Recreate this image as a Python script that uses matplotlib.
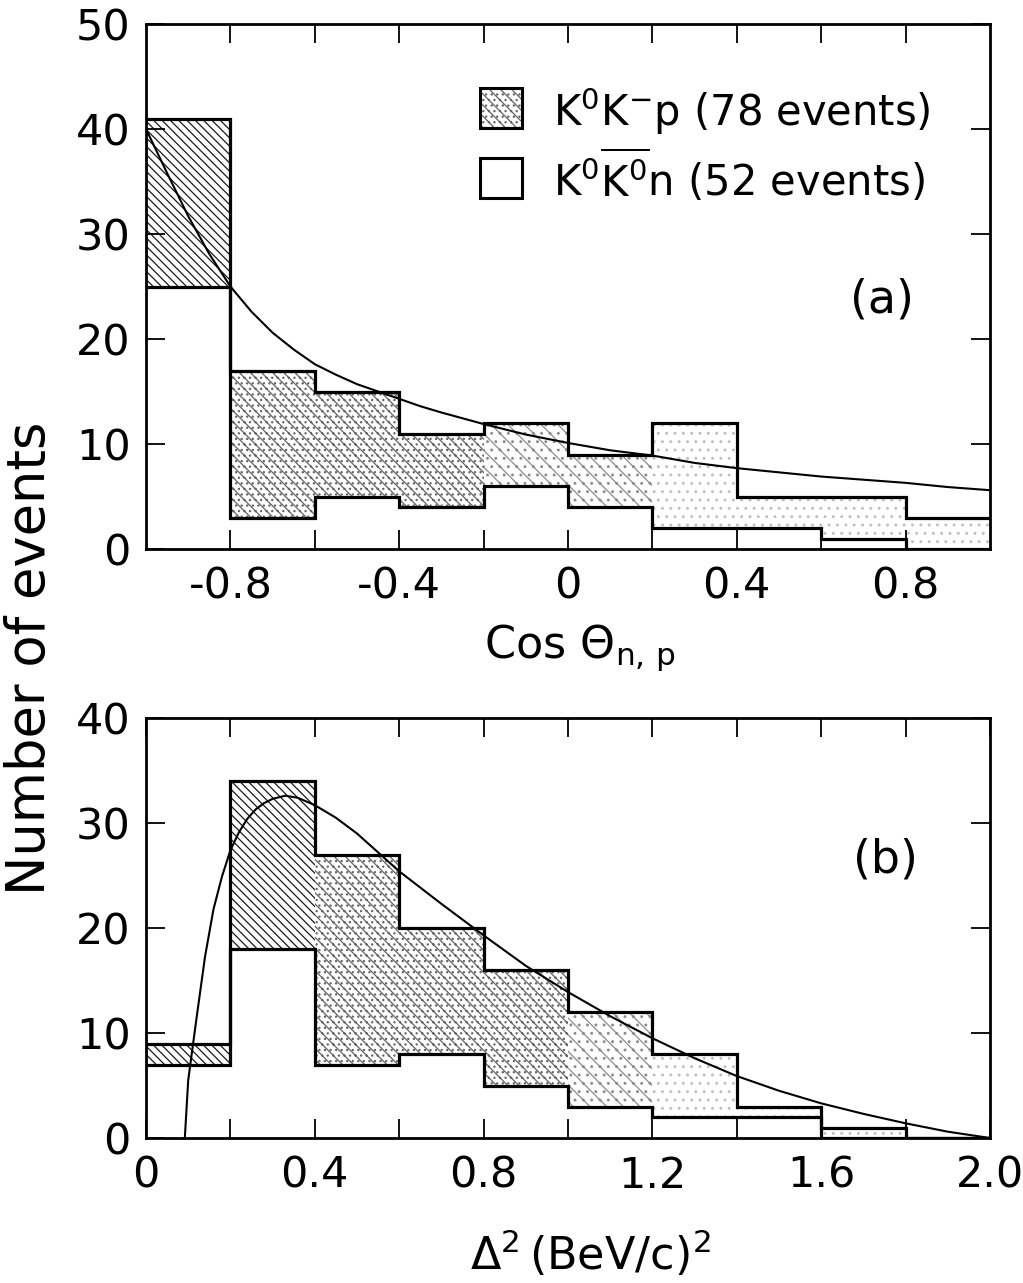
import numpy as np
import matplotlib
matplotlib.use('Agg')
import matplotlib.pyplot as plt
from matplotlib.patches import Rectangle

# ---- data ----
# (a) cos theta_n,p, bins of 0.2
cos_edges = [-1.0, -0.8, -0.6, -0.4, -0.2, 0.0, 0.2, 0.4, 0.6, 0.8, 1.0]
cos_k0k0n = [25, 3, 5, 4, 6, 4, 2, 2, 1, 0]        # K0 K0bar n, 52 events
cos_total = [41, 17, 15, 11, 12, 9, 12, 5, 5, 3]    # + K0 K- p, 78 events
cos_fit_x = [-1.0, -0.95, -0.9, -0.85, -0.8, -0.75, -0.7, -0.65, -0.6, -0.55,
             -0.5, -0.45, -0.4, -0.35, -0.3, -0.2, -0.1, 0.0, 0.1, 0.2, 0.3,
             0.4, 0.5, 0.6, 0.7, 0.8, 0.9, 1.0]
cos_fit_y = [40.0, 35.8, 31.7, 28.1, 25.0, 22.6, 20.6, 19.0, 17.6, 16.6,
             15.7, 15.0, 14.3, 13.6, 13.0, 11.9, 10.9, 10.1, 9.4, 8.9, 8.2,
             7.7, 7.3, 6.9, 6.6, 6.3, 5.9, 5.6]
cos_ticks = [-0.8, -0.4, 0.0, 0.4, 0.8]
cos_ticklabels = ['-0.8', '-0.4', '0', '0.4', '0.8']
cos_minor = [-0.6, -0.2, 0.2, 0.6]
cos_yticks = [0, 10, 20, 30, 40, 50]

# (b) delta^2 (BeV/c)^2, bins of 0.2
d2_edges = [0.0, 0.2, 0.4, 0.6, 0.8, 1.0, 1.2, 1.4, 1.6, 1.8, 2.0]
d2_k0k0n = [7, 18, 7, 8, 5, 3, 2, 2, 0, 0]
d2_total = [9, 34, 27, 20, 16, 12, 8, 3, 1, 0]
d2_fit_x = [0.092, 0.10, 0.11, 0.12, 0.14, 0.16, 0.18, 0.20, 0.22, 0.24, 0.26,
            0.28, 0.30, 0.33, 0.36, 0.40, 0.45, 0.50, 0.60, 0.70, 0.80, 0.90,
            1.00, 1.10, 1.20, 1.30, 1.40, 1.50, 1.60, 1.70, 1.80, 1.90, 2.00]
d2_fit_y = [0.0, 5.5, 8.5, 11.5, 17.3, 21.8, 24.9, 27.4, 29.1, 30.4, 31.3,
            31.9, 32.3, 32.6, 32.4, 31.7, 30.5, 29.0, 25.4, 22.3, 19.3, 16.4,
            13.9, 11.6, 9.5, 7.6, 5.9, 4.5, 3.3, 2.3, 1.4, 0.6, 0.0]
d2_ticks = [0.0, 0.4, 0.8, 1.2, 1.6, 2.0]
d2_ticklabels = ['0', '0.4', '0.8', '1.2', '1.6', '2.0']
d2_minor = [0.2, 0.6, 1.0, 1.4, 1.8]
d2_yticks = [0, 10, 20, 30, 40]

# stipple look of the shaded part, one per bin
cos_shade = ['dense', 'medium', 'medium', 'medium', 'light', 'light',
             'faint', 'faint', 'faint', 'faint']
d2_shade = ['dense', 'dense', 'medium', 'medium', 'medium', 'light',
            'faint', 'faint', 'faint', 'faint']
SHADES = {'dense': ('\\\\\\\\', '0.1'),
          'medium': ('\\\\\\...', '0.4'),
          'light': ('\\\\..', '0.55'),
          'faint': ('..', '0.75')}

plt.rcParams['font.family'] = ['DejaVu Sans']
plt.rcParams['mathtext.fontset'] = 'dejavusans'
plt.rcParams['axes.unicode_minus'] = False
plt.rcParams['hatch.linewidth'] = 0.9

W, H = 1023, 1283
fig = plt.figure(figsize=(W / 100, H / 100), dpi=100)


def fx(x):
    return x / W


def fy(y):
    return 1 - y / H


def draw_panel(ax, edges, white, total, shade, fit_x, fit_y):
    edges = np.array(edges)
    white = np.array(white)
    total = np.array(total)
    for l, w, lo, hi, s in zip(edges[:-1], np.diff(edges), white, total, shade):
        if hi > lo:
            hatch, col = SHADES[s]
            ax.bar(l, hi - lo, width=w, bottom=lo, align='edge', color='white',
                   edgecolor=col, hatch=hatch, linewidth=0, zorder=1)
    ax.stairs(total, edges, baseline=None, color='black', lw=2.3, zorder=3)
    ax.stairs(white, edges, baseline=None, color='black', lw=2.3, zorder=3)
    ax.plot(fit_x, fit_y, color='black', lw=1.5, zorder=4)


def style_axes(ax, xlim, ylim, ticks, labels, minor, yticks):
    ax.set_xlim(*xlim)
    ax.set_ylim(*ylim)
    ax.set_xticks(ticks)
    ax.set_xticklabels(labels)
    ax.set_xticks(minor, minor=True)
    ax.set_yticks(yticks)
    ax.set_yticklabels([str(v) for v in yticks])
    ax.tick_params(which='both', direction='in', length=14, width=1.3,
                   top=True, right=True, labelsize=31)
    ax.tick_params(axis='x', pad=12)
    ax.tick_params(axis='y', pad=11)
    for sp in ax.spines.values():
        sp.set_linewidth(2)


ax_a = fig.add_axes([fx(146), fy(549), fx(990) - fx(146), fy(24) - fy(549)])
draw_panel(ax_a, cos_edges, cos_k0k0n, cos_total, cos_shade, cos_fit_x, cos_fit_y)
style_axes(ax_a, (-1, 1), (0, 50), cos_ticks, cos_ticklabels, cos_minor, cos_yticks)

ax_b = fig.add_axes([fx(146), fy(1138), fx(990) - fx(146), fy(718) - fy(1138)])
draw_panel(ax_b, d2_edges, d2_k0k0n, d2_total, d2_shade, d2_fit_x, d2_fit_y)
style_axes(ax_b, (0, 2), (0, 40), d2_ticks, d2_ticklabels, d2_minor, d2_yticks)

# legend drawn by hand, as in the original
hatch, col = SHADES['medium']
fig.patches.append(Rectangle((fx(480), fy(128)), fx(42), 40 / H, transform=fig.transFigure,
                             facecolor='white', edgecolor=col, hatch=hatch, lw=0))
fig.patches.append(Rectangle((fx(480), fy(128)), fx(42), 40 / H, transform=fig.transFigure,
                             facecolor='none', edgecolor='black', lw=2.2))
fig.patches.append(Rectangle((fx(480), fy(198)), fx(42), 40 / H, transform=fig.transFigure,
                             facecolor='white', edgecolor='black', lw=2.2))
fig.text(fx(553), fy(126), r'K$^{0}$K$^{-}$p (78 events)', fontsize=30, va='baseline')
fig.text(fx(553), fy(196), r'K$^{0}\overline{\mathrm{K}^{0}}$n (52 events)', fontsize=30,
         va='baseline')

fig.text(fx(882), fy(300), '(a)', fontsize=33, ha='center', va='center')
fig.text(fx(885), fy(860), '(b)', fontsize=33, ha='center', va='center')

fig.text(fx(580), fy(658), r'Cos $\Theta_{\mathrm{n,\,p}}$', fontsize=32, ha='center',
         va='baseline')
fig.text(fx(590), fy(1270), r'$\Delta^{2}\,(\mathrm{BeV/c})^{2}$', fontsize=32,
         ha='center', va='baseline')
fig.text(fx(30), fy(658), 'Number of events', fontsize=38, rotation=90,
         ha='center', va='center')

fig.savefig('out.png', dpi=100)
